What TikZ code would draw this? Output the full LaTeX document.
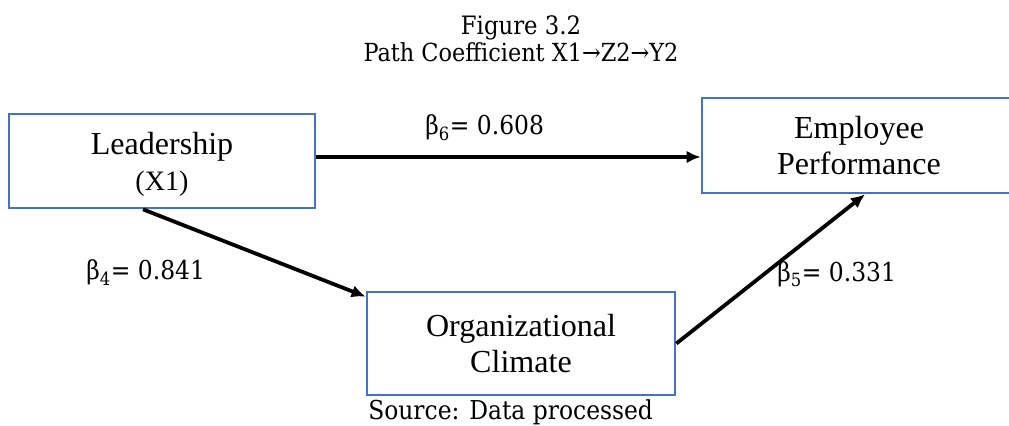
\documentclass[tikz,border=0pt]{standalone}
\usepackage{fontspec}
\setmainfont{Liberation Serif}
\newfontfamily\camfont{DejaVu Serif Condensed}
\usetikzlibrary{arrows.meta}
\definecolor{boxblue}{HTML}{4472C4}
\tikzset{
  box/.style={draw=boxblue, line width=1.9pt, align=center, inner sep=0pt,
    font=\fontsize{22.8}{25.6}\selectfont},
  arr/.style={line width=2.7pt, -{Latex[length=10pt, width=9pt]}},
  lbl/.style={font=\camfont\fontsize{18.5}{22}\selectfont, anchor=base west, inner sep=0pt},
  ttl/.style={font=\camfont\fontsize{18}{22}\selectfont, anchor=base, inner sep=0pt}
}
\begin{document}
\begin{tikzpicture}[x=0.025cm, y=-0.025cm]
    \useasboundingbox (0,0) rectangle (1009,426);
    \clip (0,0) rectangle (1009,426);

    % Title
    \node[ttl] (fig) at (521,35) {Figure 3.2};
    \node[ttl, font=\camfont\fontsize{17.7}{21}\selectfont] (path) at (521,62)
        {Path Coefficient X1→Z2→Y2};

    % Variables
    \node[box, minimum width=7.65cm, minimum height=2.35cm] (lead) at (162,161)
        {\rule{0pt}{20pt}Leadership\\{\fontsize{20}{24.5}\selectfont (X1)}};
    \node[box, minimum width=7.85cm, minimum height=2.375cm] (emp) at (859,145.5)
        {Employee\\Performance};
    \node[box, minimum width=7.7cm, minimum height=2.575cm] (clim) at (521,343.5)
        {Organizational\\Climate};

    % Paths
    \draw[arr] ([yshift=0.1cm]lead.east) -- ([yshift=0.1cm]lead.east -| emp.west);
    \draw[arr] ([xshift=-0.475cm]lead.south) -- ([yshift=-0.15cm]clim.north west);
    \draw[arr] (clim.east) -- ([xshift=0.15cm]emp.south);

    % Coefficients
    \node[lbl] (b6) at (425,135) {β\textsubscript{6}= 0.608};
    \node[lbl] (b4) at (86,280) {β\textsubscript{4}= 0.841};
    \node[lbl] (b5) at (777,282) {β\textsubscript{5}= 0.331};

    % Note
    \node[lbl] (src) at (368,419) {Source: Data processed};
\end{tikzpicture}
\end{document}
